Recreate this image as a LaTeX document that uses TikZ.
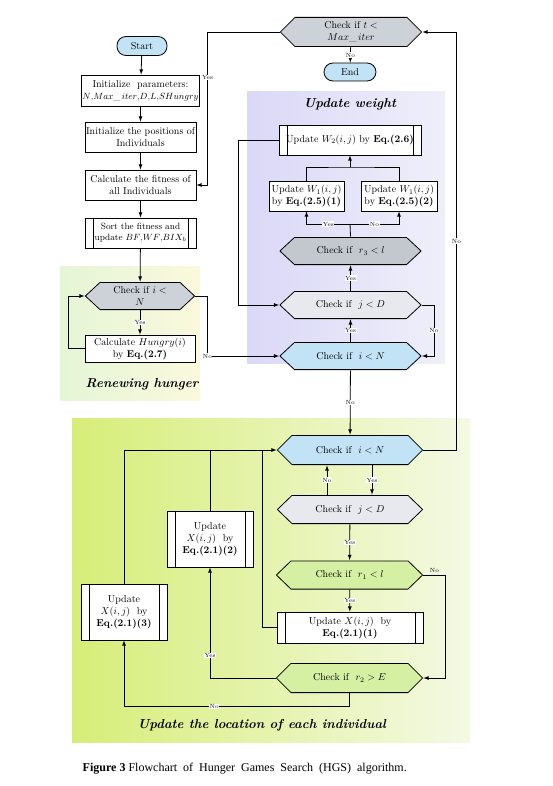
\documentclass[tikz,border=0pt]{standalone}
\usepackage{fontspec}
\newfontfamily\capfont{Liberation Serif}

\definecolor{hgsgray}{HTML}{CDD2D8}
\definecolor{hgsdark}{HTML}{C3C8CE}
\definecolor{hgslight}{HTML}{E8E9EE}
\definecolor{hgsblue}{HTML}{C2E3F6}
\definecolor{hgsgreen}{HTML}{D5F0A2}

\begin{document}
\begin{tikzpicture}[x=1pt,y=-1pt,line width=0.8pt,>=latex,
    box/.style={draw,fill=white,align=center,inner sep=1pt},
    proc/.style={box,path picture={
        \draw ([xshift=8pt]path picture bounding box.north west) -- ([xshift=8pt]path picture bounding box.south west);
        \draw ([xshift=-8pt]path picture bounding box.north east) -- ([xshift=-8pt]path picture bounding box.south east);}},
    term/.style={draw,fill=hgsblue,rounded corners=9pt,minimum width=50pt,minimum height=19pt,inner sep=1pt},
    hexbox/.style={align=center,inner sep=1pt,minimum width=142pt,minimum height=29pt,path picture={
        \draw[fill=#1]
          ([xshift=0.4pt]path picture bounding box.west)
          -- ([xshift=15pt,yshift=-0.4pt]path picture bounding box.north west)
          -- ([xshift=-15pt,yshift=-0.4pt]path picture bounding box.north east)
          -- ([xshift=-0.4pt]path picture bounding box.east)
          -- ([xshift=-15pt,yshift=0.4pt]path picture bounding box.south east)
          -- ([xshift=15pt,yshift=0.4pt]path picture bounding box.south west)
          -- cycle;}},
    lbl/.style={font=\fontsize{6}{7}\selectfont,fill=white,inner sep=0.5pt},
    title/.style={font=\fontsize{13}{15}\selectfont\bfseries\itshape}]

  \useasboundingbox (0,0) rectangle (553,786);

  % coloured areas
  \shade[left color={rgb,255:red,228;green,246;blue,214},right color={rgb,255:red,251;green,248;blue,221}] (60,266) rectangle (200,400);
  \shade[left color={rgb,255:red,218;green,216;blue,247},right color={rgb,255:red,239;green,239;blue,250}] (247,92) rectangle (445,363);
  \shade[left color={rgb,255:red,214;green,238;blue,120},right color={rgb,255:red,244;green,249;blue,228}] (72,418) rectangle (470,742);

  % left column
  \node[term] (start) at (142,46) {Start};
  \node[box,minimum width=111pt,minimum height=31pt] (initpar) at (140.5,90.5) {Initialize~ parameters:\\ \small$N{,}Max\_\,iter{,}D{,}L{,}SHungry$};
  \node[box,minimum width=111pt,minimum height=30pt] (initpos) at (140.5,137) {Initialize the positions of\\ Individuals};
  \node[box,minimum width=111pt,minimum height=30pt] (fitness) at (140.5,185) {Calculate the fitness of\\ all Individuals};
  \node[proc,minimum width=111pt,minimum height=30pt,font=\small] (sortfit) at (140.5,233) {Sort the fitness and\\ update $BF{,}WF{,}BIX_b$};
  \node[hexbox=hgsgray,minimum width=110pt,minimum height=28pt] (chkhun) at (140,296) {Check if $i<$\\ $N$};
  \node[box,minimum width=110pt,minimum height=27pt] (hungry) at (140,348.5) {Calculate $Hungry(i)$\\ by \textbf{Eq.(2.7)}};
  \node[title] (thun) at (142,384) {Renewing hunger};

  % update weight
  \node[hexbox=hgsgray,minimum height=30pt] (chkt) at (351,32) {Check if $t<$\\ $Max\_\,iter$};
  \node[term,minimum width=52pt,minimum height=18pt] (stop) at (350,72) {End};
  \node[title] (twt) at (350,104) {Update weight};
  \node[proc,minimum width=142pt,minimum height=30pt] (upw2) at (350,140) {Update $W_2(i,j)$ by \textbf{Eq.(2.6)}};
  \node[box,minimum width=75pt,minimum height=30pt] (upw1a) at (306.5,196) {Update $W_1(i,j)$\\ by \textbf{Eq.(2.5)(1)}};
  \node[box,minimum width=76pt,minimum height=30pt] (upw1b) at (399,196) {Update $W_1(i,j)$\\ by \textbf{Eq.(2.5)(2)}};
  \node[hexbox=hgsdark,minimum height=28pt] (chkr3) at (350.5,251) {Check if~ $r_3<l$};
  \node[hexbox=hgslight,minimum height=28pt] (chkjw) at (350.5,305) {Check if~ $j<D$};
  \node[hexbox=hgsblue,minimum height=28pt] (chkiw) at (350.5,356) {Check if~ $i<N$};
  \coordinate (jw) at (350,167);
  \coordinate (sw) at (350,224);

  % update location
  \node[hexbox=hgsblue,minimum width=146pt,minimum height=30pt] (chkil) at (350,450) {Check if~ $i<N$};
  \node[hexbox=hgslight,minimum width=146pt] (chkjl) at (350,509.5) {Check if~ $j<D$};
  \node[hexbox=hgsgreen,minimum width=147pt] (chkr1) at (349.5,575) {Check if~ $r_1<l$};
  \node[proc,minimum width=146pt,minimum height=31pt] (upx1) at (350,627.5) {Update $X(i,j)$~ by\\ \textbf{Eq.(2.1)(1)}};
  \node[hexbox=hgsgreen,minimum width=147pt,minimum height=30pt] (chkr2) at (349.5,678) {Check if~ $r_2>E$};
  \node[proc,minimum width=86pt,minimum height=56pt] (upx2) at (210,539) {Update\\ $X(i,j)$~ by\\ \textbf{Eq.(2.1)(2)}};
  \node[proc,minimum width=86pt,minimum height=56pt] (upx3) at (124,612) {Update\\ $X(i,j)$~ by\\ \textbf{Eq.(2.1)(3)}};
  \node[title] (tloc) at (262,725) {Update the location of each individual};

  \node[anchor=west,font=\capfont\fontsize{12}{14}\selectfont] (cap) at (79,769) {\textbf{Figure 3} Flowchart~ of~ Hunger~ Games~ Search~ (HGS)~ algorithm.};

  % connectors, left column
  \draw[->] (start) -- (initpar);
  \draw[->] (initpar) -- (initpos);
  \draw[->] (initpos) -- (fitness);
  \draw[->] (fitness) -- (sortfit);
  \draw[->] (sortfit) -- (chkhun);
  \draw[->] (chkhun) -- node[lbl]{Yes} (hungry);
  \draw[->] (hungry.west) -- ++(-16,0) |- (chkhun.west);
  \draw[->] (chkhun.east) -- ++(12,0) |- node[pos=0.5,lbl]{No} (chkiw.west);

  % connectors, update weight
  \draw[->] (chkt.west) -- ++(-72,0) |- node[pos=0.15,lbl]{Yes} (fitness.east);
  \draw[->] (chkt) -- node[lbl]{No} (stop);
  \draw (upw1a.north) |- (jw) -| (upw1b.north);
  \draw[->] (jw) -- (upw2.south);
  \draw (chkr3.north) -- (sw);
  \draw[->] (sw) -| node[pos=0.25,lbl]{Yes} (upw1a.south);
  \draw[->] (sw) -| node[pos=0.25,lbl]{No} (upw1b.south);
  \draw[->] (chkjw) -- node[lbl]{Yes} (chkr3);
  \draw[->] (chkiw) -- node[lbl]{Yes} (chkjw);
  \draw[->] (upw2.west) -- ++(-40,0) |- (chkjw.west);
  \draw[->] (chkjw.east) -- ++(12,0) |- node[pos=0.25,lbl]{No} (chkiw.east);
  \draw[->] (chkiw) -- node[lbl]{No} (chkil);

  % connectors, update location
  \draw[->] (chkil.east) -- ++(33,0) |- node[pos=0.25,lbl]{No} (chkt.east);
  \draw[->] ([xshift=22pt]chkil.south) -- node[lbl]{Yes} ([xshift=22pt]chkjl.north);
  \draw[->] ([xshift=-23pt]chkjl.north) -- node[lbl]{No} ([xshift=-23pt]chkil.south);
  \draw[->] (chkjl) -- node[lbl]{Yes} (chkr1);
  \draw[->] (chkr1) -- node[lbl]{Yes} (upx1);
  \draw[->] (chkr1.east) -- node[lbl,fill=none,above=2pt]{No} ++(22,0) |- (chkr2.east);
  \draw[->] (chkr2.west) -| node[pos=0.6,lbl]{Yes} (upx2.south);
  \draw[->] (chkr2.south) -- ++(0,13) -| node[pos=0.3,lbl]{No} (upx3.south);
  \draw[->] (upx3.north) |- (chkil.west);
  \draw (upx2.north) -- (upx2.north |- chkil.west);
  \draw (upx1.west) -| ([xshift=-14pt]chkil.west);

\end{tikzpicture}
\end{document}
